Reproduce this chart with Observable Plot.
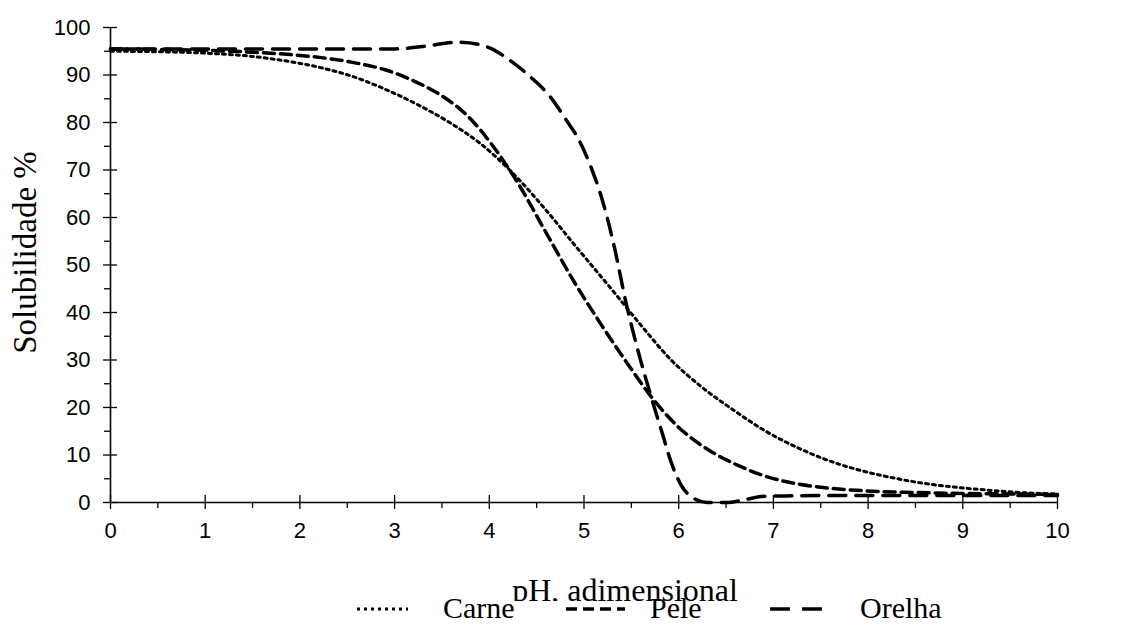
<!DOCTYPE html>
<html>
<head>
<meta charset="utf-8">
<script src="https://cdn.jsdelivr.net/npm/d3@7"></script>
<script src="https://cdn.jsdelivr.net/npm/@observablehq/plot@0.6"></script>
<style>
  html, body { margin: 0; padding: 0; background: #fff; }
  #wrap { position: relative; width: 1123px; height: 626px; overflow: hidden; background: #fff; }
  #chart { position: absolute; left: 0; top: 0; }
  .serif { font-family: "Liberation Serif", "Times New Roman", serif; color: #000; }
  #ytitle { position: absolute; width: 340px; height: 33px; line-height: 33px; font-size: 33px; text-align: center;
            left: -145.3px; top: 235.5px; transform: rotate(-90deg); white-space: nowrap; }
  #xclip { position: absolute; left: 425px; width: 400px; top: 574px; height: 27px; overflow: hidden; }
  #xtitle { position: absolute; left: 0; width: 400px; text-align: center; top: 0; line-height: 32px; font-size: 32px; white-space: nowrap; }
  #legend { position: absolute; left: 0; top: 585px; width: 1123px; height: 41px; }
</style>
</head>
<body>
<div id="wrap">
  <div id="chart"></div>
  <div id="ytitle" class="serif">Solubilidade %</div>
  <div id="xclip"><div id="xtitle" class="serif">pH, adimensional</div></div>
  <svg id="legend" width="1123" height="41"></svg>
</div>
<script>
// ---- data ----
const seriesNames = ["Carne", "Pele", "Orelha"];

const carnePH = [0, 0.5, 1, 1.5, 1.9, 2.23, 2.57, 2.9, 3.24, 3.58, 3.91, 4.24, 4.58, 4.91, 5.32, 5.59, 5.92, 6.25, 6.59, 6.92, 7.26, 7.6, 7.93, 8.26, 8.6, 8.93, 9.27, 9.6, 10];
const carneSol = [95, 94.9, 94.6, 93.9, 92.8, 91.5, 89.6, 87.0, 83.8, 80.0, 75.5, 69.5, 62.0, 54.0, 44.2, 37.6, 30.0, 24.2, 19.3, 15.0, 11.5, 8.7, 6.7, 5.2, 4.0, 3.2, 2.6, 2.1, 1.8];

const pelePH = [0, 0.5, 1, 1.5, 1.9, 2.57, 2.9, 3.24, 3.5, 3.78, 4.04, 4.31, 4.58, 4.91, 5.18, 5.45, 5.72, 5.99, 6.32, 6.65, 6.92, 7.26, 7.6, 7.93, 8.5, 9, 9.5, 10];
const peleSol = [95.5, 95.4, 95.2, 94.8, 94.3, 92.6, 91.1, 88.4, 85.6, 81.2, 75.0, 67.0, 57.5, 46.0, 37.5, 29.5, 22.0, 16.0, 11.0, 7.6, 5.5, 3.9, 3.0, 2.5, 2.1, 1.9, 1.8, 1.7];

const orelhaPH = [0, 1, 2, 3, 3.3, 3.68, 3.98, 4.21, 4.44, 4.64, 4.81, 4.95, 5.07, 5.17, 5.25, 5.32, 5.45, 5.59, 5.72, 5.82, 5.92, 6.03, 6.15, 6.3, 6.5, 6.7, 6.9, 7.2, 8, 9, 10];
const orelhaSol = [95.5, 95.5, 95.5, 95.5, 96, 96.9, 95.9, 93.2, 89.5, 85.5, 80.6, 76.2, 70.8, 65.2, 59.6, 53.8, 41.5, 30.5, 21.5, 15.0, 8.5, 3.5, 1.0, 0, 0, 0.6, 1.3, 1.4, 1.5, 1.5, 1.5];

const xTicks = [0, 1, 2, 3, 4, 5, 6, 7, 8, 9, 10];
const xMinorTicks = [0.5, 1.5, 2.5, 3.5, 4.5, 5.5, 6.5, 7.5, 8.5, 9.5];
const yTicks = [0, 10, 20, 30, 40, 50, 60, 70, 80, 90, 100];
const yMinorTicks = [5, 15, 25, 35, 45, 55, 65, 75, 85, 95];

const toRows = (xs, ys) => xs.map((x, i) => ({ph: x, sol: ys[i]}));
const carne = toRows(carnePH, carneSol);
const pele = toRows(pelePH, peleSol);
const orelha = toRows(orelhaPH, orelhaSol);

const styles = {
  Carne: {strokeWidth: 3, strokeDasharray: "3 4"},
  Pele: {strokeWidth: 3.5, strokeDasharray: "11 6"},
  Orelha: {strokeWidth: 3.5, strokeDasharray: "17 10"}
};

const chart = Plot.plot({
  width: 1123,
  height: 520,
  marginLeft: 110,
  marginRight: 66,
  marginTop: 27,
  marginBottom: 18,
  x: {domain: [0, 10]},
  y: {domain: [0, 100]},
  style: {fontFamily: "'Liberation Sans', Arial, sans-serif", fontSize: "22px", color: "#000", background: "#fff", overflow: "visible"},
  marks: [
    Plot.axisY({ticks: yTicks, tickSize: 7, tickPadding: 13, label: null, strokeWidth: 1.3, fontSize: 22}),
    Plot.axisY({ticks: yMinorTicks, tickSize: 6, tickFormat: () => "", label: null, strokeWidth: 1.3}),
    Plot.axisX({ticks: xTicks, tickSize: 7, tickPadding: 13, label: null, strokeWidth: 1.3, fontSize: 22}),
    Plot.axisX({ticks: xMinorTicks, tickSize: 6, tickFormat: () => "", label: null, strokeWidth: 1.3}),
    Plot.ruleY(yTicks, {y: d => d, x1: 0, x2: 0, insetRight: -7, stroke: "#000", strokeWidth: 1.3}),
    Plot.ruleX(xTicks, {x: d => d, y1: 0, y2: 0, insetTop: -7, stroke: "#000", strokeWidth: 1.3}),
    Plot.ruleY([0], {stroke: "#000", strokeWidth: 1.6}),
    Plot.ruleX([0], {stroke: "#000", strokeWidth: 1.6}),
    Plot.line(carne, {x: "ph", y: "sol", curve: "monotone-x", stroke: "#000", ...styles.Carne}),
    Plot.line(pele, {x: "ph", y: "sol", curve: "monotone-x", stroke: "#000", ...styles.Pele}),
    Plot.line(orelha, {x: "ph", y: "sol", curve: "monotone-x", stroke: "#000", ...styles.Orelha})
  ]
});
document.getElementById("chart").appendChild(chart);

// ---- legend below the chart ----
const legend = d3.select("#legend");
const legendItems = [
  {name: "Carne", x1: 357, x2: 408, tx: 443},
  {name: "Pele", x1: 566, x2: 625, tx: 650},
  {name: "Orelha", x1: 770, x2: 822, tx: 860}
];
legendItems.forEach(it => {
  const s = styles[it.name];
  legend.append("line")
    .attr("x1", it.x1).attr("x2", it.x2).attr("y1", 24).attr("y2", 24)
    .attr("stroke", "#000").attr("stroke-width", s.strokeWidth)
    .attr("stroke-dasharray", it.name === "Orelha" ? "20 12" : s.strokeDasharray);
  legend.append("text")
    .attr("x", it.tx).attr("y", 33)
    .attr("font-family", "'Liberation Serif', 'Times New Roman', serif")
    .attr("font-size", 30)
    .attr("fill", "#000")
    .text(it.name);
});
</script>
</body>
</html>
